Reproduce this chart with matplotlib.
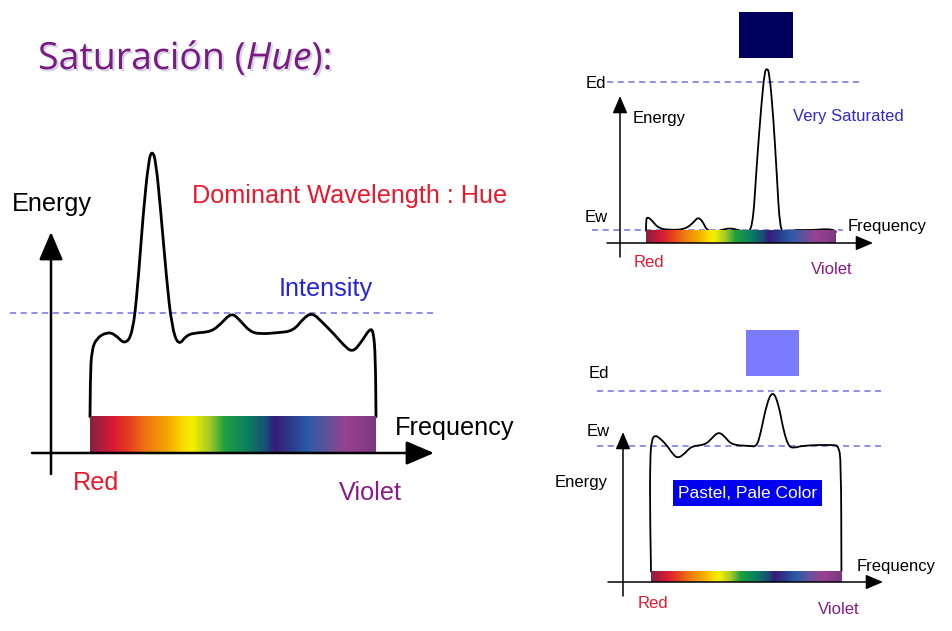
import numpy as np
import matplotlib
matplotlib.use("Agg")
import matplotlib.pyplot as plt
from matplotlib.path import Path
from matplotlib.patches import PathPatch, Rectangle
from matplotlib.colors import LinearSegmentedColormap
import matplotlib.patheffects as pe

plt.rcParams['font.family'] = ['Liberation Sans', 'DejaVu Sans']

# ---------------- data ----------------
# frequency position along the visible band (0 = red end, 1 = violet end), energy (relative)
main_freq = [0.0, 0.001, 0.006, 0.023, 0.058, 0.087, 0.122, 0.149, 0.166, 0.186, 0.205, 0.217,
             0.230, 0.248, 0.268, 0.286, 0.309, 0.338, 0.373, 0.425, 0.460, 0.495, 0.524, 0.559,
             0.594, 0.653, 0.711, 0.746, 0.777, 0.810, 0.851, 0.886, 0.918, 0.950, 0.979, 0.991,
             0.998, 1.0]
main_energy = [0.12, 0.253, 0.341, 0.380, 0.400, 0.394, 0.358, 0.396, 0.540, 0.794, 0.970, 1.001,
               0.970, 0.794, 0.573, 0.418, 0.354, 0.391, 0.398, 0.402, 0.430, 0.465, 0.440, 0.402,
               0.394, 0.398, 0.404, 0.446, 0.465, 0.435, 0.396, 0.358, 0.332, 0.369, 0.413, 0.402,
               0.319, 0.12]
main_intensity = 0.464

sat_freq = [0.0, 0.0, 0.007, 0.030, 0.065, 0.126, 0.205, 0.249, 0.275, 0.302, 0.319, 0.355,
            0.398, 0.442, 0.486, 0.521, 0.561, 0.582, 0.609, 0.625, 0.635, 0.649, 0.670, 0.688,
            0.705, 0.732, 0.767, 0.881, 0.951, 0.989, 1.0]
sat_energy = [0.070, 0.131, 0.150, 0.131, 0.084, 0.074, 0.078, 0.116, 0.150, 0.116, 0.074, 0.063,
              0.074, 0.086, 0.074, 0.063, 0.074, 0.438, 0.817, 0.979, 0.998, 0.979, 0.722, 0.398,
              0.074, 0.063, 0.074, 0.074, 0.080, 0.074, 0.063]
sat_Ed, sat_Ew = 0.92, 0.074

pastel_freq = [0.0, -0.005, -0.005, 0.003, 0.021, 0.047, 0.082, 0.117, 0.143, 0.178, 0.213, 0.283,
               0.318, 0.353, 0.387, 0.422, 0.518, 0.553, 0.574, 0.606, 0.637, 0.667, 0.693, 0.719,
               0.745, 0.797, 0.954, 0.981, 0.995, 0.997]
pastel_energy = [0.054, 0.321, 0.632, 0.736, 0.762, 0.744, 0.710, 0.658, 0.641, 0.667, 0.705, 0.710,
                 0.744, 0.779, 0.753, 0.710, 0.705, 0.701, 0.770, 0.926, 0.991, 0.926, 0.788, 0.705,
                 0.693, 0.708, 0.711, 0.705, 0.632, 0.054]
pastel_Ed, pastel_Ew = 0.990, 0.705

spectrum_pos = [0.0, 0.08, 0.13, 0.20, 0.27, 0.33, 0.36, 0.42, 0.47, 0.55, 0.62, 0.645, 0.70,
                0.76, 0.84, 0.90, 1.0]
spectrum_col = ['#8a2040', '#d81a35', '#e63a20', '#ee7a10', '#f4a800', '#f8e000', '#f2ef00',
                '#a0c828', '#20a040', '#0a8060', '#1a4a78', '#3a1a7a', '#2a3a8a', '#2a5aa8',
                '#6a509a', '#9a4090', '#7a3a80']

# ---------------- figure ----------------
W, H = 952, 631
fig = plt.figure(figsize=(W / 100, H / 100), dpi=100)
fig.patch.set_facecolor('white')
spec_cmap = LinearSegmentedColormap.from_list('spec', list(zip(spectrum_pos, spectrum_col)))
DASH = '#7070e0'


def panel(L, R, A, U):
    ax = fig.add_axes([0, 0, 1, 1])
    ax.set_axis_off()
    ax.patch.set_alpha(0)
    ax.set_xlim(-L / (R - L), (W - L) / (R - L))
    ax.set_ylim((A - H) / U, A / U)
    P = lambda x, y: ((x - L) / (R - L), (A - y) / U)
    return ax, P


def smooth(ax, f, e, lw, z=3):
    pts = np.column_stack([f, e])
    verts = [pts[0]]
    codes = [Path.MOVETO]
    for i in range(1, len(pts) - 1):
        verts += [pts[i], (pts[i] + pts[i + 1]) / 2]
        codes += [Path.CURVE3, Path.CURVE3]
    verts.append(pts[-1])
    codes.append(Path.LINETO)
    ax.add_patch(PathPatch(Path(verts, codes), fill=False, lw=lw, ec='black',
                           joinstyle='round', capstyle='round', zorder=z))


def bar(ax, h):
    grad = np.linspace(0, 1, 400)[None, :]
    ax.imshow(grad, cmap=spec_cmap, extent=[0, 1, 0, h], aspect='auto', zorder=4,
              interpolation='bilinear')


def arrow(ax, start, tip, lw, ms):
    ax.annotate('', xy=tip, xytext=start,
                arrowprops=dict(arrowstyle='-|>,head_length=0.75,head_width=0.32', lw=lw,
                                color='black', mutation_scale=ms, shrinkA=0, shrinkB=0),
                zorder=5)


def dashed(ax, y, x0, x1):
    ax.plot([x0, x1], [y, y], ls=(0, (4, 3)), color=DASH, lw=1.1, zorder=2)


def T(x, y, s, size, color='black', **kw):
    fig.text(x / W, 1 - y / H, s, fontsize=size, color=color, ha='left', va='center', **kw)


# ---------- left panel ----------
BIG = 18.2
ax1, P1 = panel(90, 376, 453, 302)
dashed(ax1, main_intensity, P1(10, 0)[0], P1(435, 0)[0])
smooth(ax1, main_freq, main_energy, 2.0)
bar(ax1, 0.122)
arrow(ax1, P1(32, 453), P1(434, 453), 1.8, 23)
arrow(ax1, P1(51, 474), P1(51, 232), 1.8, 23)
T(12, 204, 'Energy', BIG)
T(192, 196, 'Dominant Wavelength : Hue', BIG, '#e8192c')
T(279, 289, 'Intensity', BIG, '#2424dc')
T(395, 428, 'Frequency', BIG)
T(73, 483, 'Red', BIG, '#e8192c')
T(339, 493, 'Violet', BIG, '#8a1a8a')

# ---------- top-right panel ----------
SM = 12
ax2, P2 = panel(646, 836, 243, 175)
dashed(ax2, sat_Ed, P2(607, 0)[0], P2(860, 0)[0])
dashed(ax2, sat_Ew, P2(592, 0)[0], P2(843, 0)[0])
smooth(ax2, sat_freq, sat_energy, 1.3)
bar(ax2, 0.069)
arrow(ax2, P2(607, 243), P2(873, 243), 1.1, 14)
arrow(ax2, P2(620, 257), P2(620, 96), 1.1, 14)
ax2.add_patch(Rectangle(P2(739, 58), *(np.subtract(P2(793, 12), P2(739, 58))),
                        fc='#00005f', ec='none', zorder=6))
T(586, 83, 'Ed', SM)
T(633, 118, 'Energy', SM)
T(793, 116, 'Very Saturated', SM, '#2a2ad0')
T(585, 217, 'Ew', SM)
T(848, 227, 'Frequency', SM)
T(634, 263, 'Red', SM, '#e8192c')
T(811, 269, 'Violet', SM, '#8a1a8a')

# ---------- bottom-right panel ----------
ax3, P3 = panel(651, 842, 582, 193)
dashed(ax3, pastel_Ed, P3(597, 0)[0], P3(883, 0)[0])
dashed(ax3, pastel_Ew, P3(597, 0)[0], P3(883, 0)[0])
smooth(ax3, pastel_freq, pastel_energy, 1.3)
bar(ax3, 0.052)
arrow(ax3, P3(608, 582), P3(883, 582), 1.1, 14)
arrow(ax3, P3(623, 596), P3(623, 432), 1.1, 14)
ax3.add_patch(Rectangle(P3(746, 376), *(np.subtract(P3(799, 330), P3(746, 376))),
                        fc='#7b7bff', ec='none', zorder=6))
T(589, 374, 'Ed', SM)
T(587, 431, 'Ew', SM)
T(555, 482, 'Energy', SM)
fig.text(678 / W, 1 - 493 / H, 'Pastel, Pale Color', fontsize=12.5, color='white', ha='left',
         va='center', bbox=dict(boxstyle='square,pad=0.3', fc='#0000ee', ec='none'))
T(857, 566, 'Frequency', SM)
T(638, 603, 'Red', SM, '#e8192c')
T(818, 609, 'Violet', SM, '#8a1a8a')

# ---------- title ----------
shadow = [pe.SimplePatchShadow(offset=(1.5, -1.5), shadow_rgbFace='#a0a0c0', alpha=0.45),
          pe.Normal()]
tcol = '#7a1a82'
tsize = 27
renderer = fig.canvas.get_renderer()
x = 38
for piece, style in [('Saturación (', 'normal'), ('Hue', 'italic'), ('):', 'normal')]:
    t = fig.text(x / W, 1 - 59 / H, piece, fontsize=tsize, color=tcol, family='Open Sans',
                 style=style, ha='left', va='center', path_effects=shadow)
    bb = t.get_window_extent(renderer)
    x += bb.width

fig.savefig('out.png', dpi=100, facecolor='white')
